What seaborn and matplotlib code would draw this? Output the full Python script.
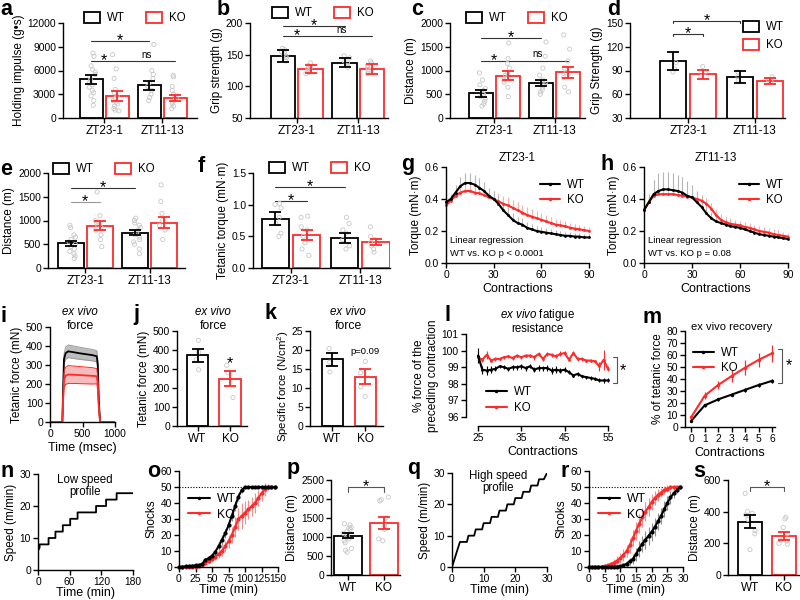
import numpy as np
import pandas as pd
import seaborn as sns
import matplotlib.pyplot as plt
from matplotlib.patches import Patch
from matplotlib.lines import Line2D
from matplotlib.ticker import FormatStrFormatter

# ---------------- data ----------------
groups = ['ZT23-1', 'ZT11-13']
genos = ['WT', 'KO']
# grouped bars: WT ZT23-1, KO ZT23-1, WT ZT11-13, KO ZT11-13
a_mean = [4900, 2800, 4150, 2500]
a_sem = [550, 600, 550, 400]
a_pts = [[8200, 7800, 6600, 6100, 5800, 5500, 5200, 4800, 4500, 4200, 3900, 3500, 3200, 2800, 2200, 1600],
         [8000, 6200, 5000, 3600, 3200, 2800, 2500, 2200, 2000, 1800, 1500, 1200, 1000, 900],
         [9300, 6000, 5500, 5000, 4500, 4000, 3500, 3000, 2600, 2200],
         [5400, 5200, 4000, 3500, 3000, 2500, 2200, 2000, 1800, 1500, 1200]]

b_mean = [148, 127, 137, 127]
b_sem = [9, 6, 7, 8]
b_pts = [[160, 158, 155, 153, 150, 148, 145, 140],
         [137, 133, 130, 128, 126, 124, 122, 120],
         [148, 145, 140, 137, 133, 130],
         [140, 137, 133, 130, 127, 124, 120]]

c_mean = [520, 890, 740, 960]
c_sem = [70, 100, 60, 110]
c_pts = [[950, 800, 700, 620, 580, 520, 500, 450, 400, 350, 300, 250],
         [1580, 1250, 1150, 1050, 950, 900, 850, 800, 750, 650, 450],
         [1600, 1300, 1050, 900, 800, 750, 700, 650, 600, 550, 500],
         [1750, 1450, 1200, 1050, 950, 850, 650, 550]]

d_mean = [102, 85, 82, 77]
d_sem = [11.5, 6, 7.5, 4]
d_pts = [[100, 92, 88], [95, 88, 82], [88, 82, 78], [82, 78, 76]]

e_mean = [520, 890, 740, 950]
e_sem = [50, 100, 55, 115]
e_pts = [[900, 850, 700, 650, 600, 550, 500, 450, 400, 350, 300, 250, 200],
         [1600, 1100, 1000, 950, 900, 850, 800, 700, 600, 450],
         [1050, 1000, 950, 900, 850, 800, 750, 700, 650, 600, 550, 500, 400, 300],
         [1750, 1400, 1150, 1000, 900, 800, 600]]

f_mean = [0.78, 0.52, 0.48, 0.41]
f_sem = [0.1, 0.08, 0.08, 0.05]
f_pts = [[1.02, 1.0, 0.95, 0.8, 0.7, 0.55, 0.5],
         [0.82, 0.8, 0.65, 0.6, 0.5, 0.4, 0.3, 0.2],
         [0.8, 0.7, 0.6, 0.55, 0.45, 0.35, 0.3],
         [0.65, 0.5, 0.45, 0.4, 0.35, 0.3, 0.25]]

# torque fatigue curves (every 3rd contraction)
contr = [0, 3, 6, 9, 12, 15, 18, 21, 24, 27, 30, 33, 36, 39, 42, 45, 48, 51, 54, 57, 60,
         63, 66, 69, 72, 75, 78, 81, 84, 87, 90]
g_wt = [0.38, 0.40, 0.44, 0.48, 0.50, 0.50, 0.49, 0.47, 0.45, 0.42, 0.40, 0.37, 0.33, 0.30, 0.27, 0.25,
        0.24, 0.22, 0.21, 0.20, 0.195, 0.19, 0.185, 0.18, 0.175, 0.17, 0.17, 0.165, 0.165, 0.16, 0.16]
g_wt_err = [0.02, 0.03, 0.05, 0.06, 0.065, 0.065, 0.06, 0.06, 0.055, 0.05, 0.05, 0.05, 0.05, 0.05, 0.045, 0.04,
            0.04, 0.035, 0.035, 0.03, 0.03, 0.03, 0.03, 0.025, 0.025, 0.025, 0.025, 0.02, 0.02, 0.02, 0.02]
g_ko = [0.36, 0.39, 0.42, 0.44, 0.45, 0.45, 0.44, 0.435, 0.425, 0.41, 0.40, 0.385, 0.37, 0.36, 0.345, 0.33,
        0.315, 0.30, 0.29, 0.28, 0.27, 0.26, 0.25, 0.24, 0.235, 0.23, 0.22, 0.215, 0.21, 0.205, 0.20]
g_ko_err = [0.02, 0.03, 0.04, 0.05, 0.05, 0.05, 0.05, 0.05, 0.05, 0.05, 0.05, 0.05, 0.05, 0.05, 0.05, 0.05,
            0.05, 0.05, 0.045, 0.045, 0.04, 0.04, 0.04, 0.035, 0.035, 0.03, 0.03, 0.03, 0.03, 0.025, 0.025]
h_wt = [0.33, 0.38, 0.43, 0.45, 0.46, 0.46, 0.455, 0.45, 0.44, 0.42, 0.41, 0.38, 0.35, 0.31, 0.28, 0.26,
        0.25, 0.24, 0.23, 0.225, 0.22, 0.21, 0.20, 0.19, 0.18, 0.175, 0.17, 0.165, 0.16, 0.155, 0.15]
h_wt_err = [0.02, 0.05, 0.09, 0.11, 0.11, 0.11, 0.11, 0.1, 0.1, 0.09, 0.08, 0.07, 0.06, 0.05, 0.04, 0.035,
            0.03, 0.03, 0.03, 0.03, 0.025, 0.025, 0.025, 0.02, 0.02, 0.02, 0.02, 0.02, 0.02, 0.02, 0.02]
h_ko = [0.33, 0.38, 0.42, 0.43, 0.43, 0.43, 0.43, 0.425, 0.42, 0.415, 0.41, 0.40, 0.39, 0.37, 0.34, 0.30,
        0.27, 0.255, 0.245, 0.24, 0.235, 0.225, 0.22, 0.21, 0.20, 0.195, 0.19, 0.18, 0.175, 0.17, 0.165]
h_ko_err = [0.02, 0.03, 0.03, 0.03, 0.03, 0.03, 0.03, 0.03, 0.03, 0.03, 0.03, 0.035, 0.035, 0.035, 0.035, 0.035,
            0.035, 0.035, 0.035, 0.03, 0.03, 0.03, 0.03, 0.03, 0.03, 0.03, 0.03, 0.03, 0.03, 0.025, 0.025]

# ex vivo force traces
i_time = [0, 190, 200, 215, 240, 280, 350, 450, 550, 650, 720, 735, 750, 770, 1000]
i_wt = [0, 0, 150, 330, 362, 372, 368, 362, 357, 352, 346, 300, 120, 0, 0]
i_wt_sem = [0, 0, 10, 25, 32, 33, 33, 32, 31, 30, 29, 25, 10, 0, 0]
i_ko = [0, 0, 100, 220, 243, 250, 249, 247, 245, 243, 241, 200, 80, 0, 0]
i_ko_sem = [0, 0, 15, 40, 45, 47, 46, 45, 44, 43, 40, 35, 15, 0, 0]

j_mean, j_sem = [372, 250], [35, 38]
j_pts = [[451, 389, 349, 296], [320, 280, 150]]
k_mean, k_sem = [17.6, 13.0], [1.7, 2.0]
k_pts = [[20.4, 16.8, 14.2], [17.0, 14.0, 10.3, 7.8]]

# fatigue resistance
l_x = [25, 26, 27, 28, 29, 30, 31, 32, 33, 34, 35, 36, 37, 38, 39, 40, 41, 42, 43, 44, 45, 46, 47, 48,
       49, 50, 51, 52, 53, 54, 55]
l_wt = [99.7, 98.85, 98.8, 98.85, 98.9, 99.05, 99.0, 98.9, 99.0, 99.0, 99.05, 98.95, 99.05, 98.85, 98.95, 98.95,
        98.95, 98.8, 98.85, 98.8, 98.85, 98.7, 98.5, 98.6, 98.45, 98.4, 98.35, 98.3, 98.2, 98.2, 98.2]
l_wt_err = [0.45, 0.25, 0.25, 0.2, 0.15, 0.1, 0.12, 0.12, 0.15, 0.15, 0.15, 0.15, 0.12, 0.15, 0.2, 0.15,
            0.2, 0.2, 0.2, 0.15, 0.15, 0.12, 0.12, 0.12, 0.1, 0.1, 0.1, 0.1, 0.12, 0.15, 0.12]
l_ko = [99.6, 99.45, 99.75, 99.4, 99.5, 99.5, 99.6, 99.65, 99.55, 99.7, 99.6, 99.7, 99.7, 99.6, 99.8, 99.5,
        99.8, 99.75, 99.65, 99.8, 99.85, 99.45, 99.85, 99.5, 99.5, 99.4, 99.4, 99.35, 99.05, 99.45, 98.9]
l_ko_err = [0.3, 0.12, 0.25, 0.1, 0.1, 0.08, 0.1, 0.1, 0.1, 0.1, 0.1, 0.1, 0.1, 0.15, 0.12, 0.1,
            0.12, 0.12, 0.12, 0.15, 0.12, 0.1, 0.12, 0.1, 0.1, 0.1, 0.1, 0.1, 0.25, 0.6, 0.15]

# recovery
m_x = [0, 1, 2, 3, 4, 5, 6]
m_wt = [5, 18, 23, 27, 31, 35, 38.5]
m_wt_err = [1, 1, 1.2, 1.5, 1.5, 1.5, 1.5]
m_ko = [8, 26, 35, 42.5, 49.5, 56, 61.5]
m_ko_err = [1.5, 3, 3.5, 5, 6, 6, 7]

# treadmill speed profiles (vertices)
n_time = [0, 0, 3, 3, 20, 20, 33, 33, 47, 47, 61, 61, 75, 75, 110, 110, 129, 129, 149, 149, 180]
n_speed = [0, 6, 7, 8, 8, 10, 10, 12, 12, 14, 14, 16, 16, 18, 18, 20, 20, 22, 22, 24, 24]
q_time = [0, 2.5, 4.7, 5.2, 7.0, 7.5, 9.5, 10, 12, 12.5, 14.5, 15, 17, 17.5, 19.5, 20, 22, 22.5,
          24.5, 25, 27, 27.5, 29, 30]
q_speed = [0, 8, 8, 10, 10, 12, 12, 14, 14, 16, 16, 18, 18, 20, 20, 22, 22, 24, 24, 26, 26, 28, 28, 30]

# shocks vs time, low speed
o_t = [0, 5, 10, 15, 20, 25, 30, 35, 40, 45, 50, 55, 60, 65, 70, 75, 80, 85, 90, 95, 100,
       105, 110, 115, 120, 125, 130, 135, 140, 145]
o_wt = [0, 0.2, 0.4, 0.6, 0.8, 1, 1.3, 1.8, 4.5, 5.5, 7, 9.5, 13, 17, 21, 26, 32, 38, 44, 48, 50,
        50, 50, 50, 50, 50, 50, 50, 50, 50]
o_wt_err = [0, 0, 0, 0, 0, 0.2, 0.3, 0.5, 1, 1.5, 1.5, 2, 2.5, 3, 3, 3, 3, 3, 2.5, 1.5, 0.5,
            0, 0, 0, 0, 0, 0, 0, 0, 0]
o_ko = [0, 0, 0, 0, 0.2, 0.3, 0.5, 1, 2.5, 4, 5, 6.5, 8, 10, 13, 16, 20, 25, 30, 32, 34,
        36, 38, 40, 43, 46, 48.5, 50, 50, 50]
o_ko_err = [0, 0, 0, 0, 0, 0.2, 0.3, 0.5, 1, 1.5, 2, 2, 2.5, 3, 3.5, 4, 5, 6, 7, 8, 7,
            6, 6, 6, 5, 5, 4, 2, 0.5, 0]

# shocks vs time, high speed
r_t = [0, 1, 2, 3, 4, 5, 6, 7, 8, 9, 10, 11, 12, 13, 14, 15, 16, 17, 18, 19, 20, 21, 22, 23, 24,
       25, 26, 27, 28, 29]
r_wt = [0, 0, 0, 0, 0, 0, 0, 0, 0.2, 0.3, 0.5, 1, 2, 3.5, 5, 8, 11.5, 14.5, 17, 19.5, 22, 25, 28.5,
        32, 36, 40, 43.5, 46, 48, 50]
r_wt_err = [0, 0, 0, 0, 0, 0, 0, 0, 0.2, 0.3, 0.5, 1, 1.5, 2, 3, 4, 5, 5, 5.5, 5.5, 5.5, 5.5, 5.5,
            5, 5, 4.5, 4, 3, 2, 1]
r_ko = [0, 0, 0, 0, 0.3, 0.6, 1, 1.8, 2.8, 4, 5.5, 7.5, 10, 13.5, 18, 22.5, 27, 31, 34.5, 37.5, 40.5,
        43, 45, 46.5, 48, 49, 49.8, 50, 50, 50]
r_ko_err = [0, 0, 0, 0, 0.3, 0.5, 1, 1.5, 2, 3, 3, 3.5, 4, 4.5, 5, 5.5, 6, 6, 6, 5.5, 5, 4.5, 4,
            3, 2.5, 2, 1.5, 1, 0.5, 0.5]

p_mean, p_sem = [1035, 1370], [65, 165]
p_pts = [[1350, 1320, 1250, 1230, 1200, 1150, 1100, 1050, 1000, 950, 900, 850, 700, 650, 600],
         [2050, 1980, 1950, 1500, 1300, 1200, 950, 900]]
s_mean, s_sem = [337, 245], [40, 24]
s_pts = [[515, 400, 390, 380, 350, 280, 260, 160],
         [365, 355, 300, 260, 220, 215, 200, 195]]

# ---------------- style ----------------
RED = '#ff2b2b'
DOT = '#c8c8c8'
pal = {'WT': 'black', 'KO': RED}

sns.set_theme(style='ticks')
plt.rcParams['font.family'] = ['Liberation Sans', 'DejaVu Sans']
plt.rcParams.update({
    'font.size': 7.5, 'axes.linewidth': 1.0, 'axes.labelsize': 8.5, 'axes.labelpad': 2,
    'xtick.labelsize': 7.4, 'ytick.labelsize': 7.4,
    'xtick.major.size': 3.5, 'ytick.major.size': 3.5, 'xtick.major.width': 1.0, 'ytick.major.width': 1.0,
    'xtick.major.pad': 1.5, 'ytick.major.pad': 1.5,
    'axes.edgecolor': 'black', 'xtick.color': 'black', 'ytick.color': 'black',
    'axes.labelcolor': 'black', 'text.color': 'black',
    'mathtext.fontset': 'custom', 'mathtext.rm': 'Liberation Sans',
    'mathtext.it': 'Liberation Sans:italic', 'mathtext.bf': 'Liberation Sans:bold',
})
np.random.seed(3)

W, H = 800, 600
fig = plt.figure(figsize=(8, 6), dpi=100)


def box(l, t, r, b):
    ax = fig.add_axes([l / W, 1 - b / H, (r - l) / W, (b - t) / H])
    sns.despine(ax=ax)
    return ax


def ftext(x, y, s, **kw):
    fig.text(x / W, 1 - y / H, s, **kw)


def hollow(ax):
    for c in ax.collections:
        c.set_facecolor('none')
        c.set_edgecolor(DOT)
        c.set_linewidth(0.6)


def grouped_bars(ax, mean, sem, pts, xlim, ylim, yticks, ylabel):
    keys = [(g, k) for g in groups for k in genos]
    bars = pd.DataFrame({'group': [g for g, k in keys], 'geno': [k for g, k in keys], 'val': mean})
    dots = pd.DataFrame([(g, k, v) for (g, k), vals in zip(keys, pts) for v in vals],
                        columns=['group', 'geno', 'val'])
    sns.stripplot(data=dots, x='group', y='val', hue='geno', order=groups, hue_order=genos,
                  dodge=True, jitter=0.12, size=3, palette={'WT': DOT, 'KO': DOT}, legend=False, ax=ax)
    hollow(ax)
    sns.barplot(data=bars, x='group', y='val', hue='geno', order=groups, hue_order=genos,
                palette=pal, fill=False, width=0.9, gap=0.12, linewidth=1.3, errorbar=None,
                legend=False, ax=ax)
    patches = sorted(ax.patches, key=lambda p: p.get_x())
    for p, m, s, (g, k) in zip(patches, mean, sem, keys):
        ax.errorbar(p.get_x() + p.get_width() / 2, m, yerr=s, fmt='none', ecolor=pal[k],
                    elinewidth=1.3, capsize=4, capthick=1.3, zorder=4)
    ax.set(xlim=xlim, ylim=ylim, xlabel='', ylabel=ylabel)
    ax.set_yticks(yticks)
    ax.tick_params(axis='x', labelsize=8.5)


def simple_bars(ax, mean, sem, pts, xlim, ylim, yticks, ylabel, width):
    bars = pd.DataFrame({'geno': genos, 'val': mean})
    dots = pd.DataFrame([(k, v) for k, vals in zip(genos, pts) for v in vals], columns=['geno', 'val'])
    sns.stripplot(data=dots, x='geno', y='val', order=genos, color=DOT, jitter=0.15, size=3, ax=ax)
    hollow(ax)
    sns.barplot(data=bars, x='geno', y='val', hue='geno', order=genos, hue_order=genos, palette=pal,
                fill=False, width=width, linewidth=1.3, errorbar=None, legend=False, ax=ax)
    patches = sorted(ax.patches, key=lambda p: p.get_x())
    for p, m, s, k in zip(patches, mean, sem, genos):
        ax.errorbar(p.get_x() + p.get_width() / 2, m, yerr=s, fmt='none', ecolor=pal[k],
                    elinewidth=1.3, capsize=4, capthick=1.3, zorder=4)
    ax.set(xlim=xlim, ylim=ylim, xlabel='', ylabel=ylabel)
    ax.set_yticks(yticks)
    ax.tick_params(axis='x', labelsize=8.5)


def sig(ax, x1, x2, y, txt, drop=0.0, color='#333333'):
    if drop:
        ax.plot([x1, x1, x2, x2], [y - drop, y, y, y - drop], color=color, lw=0.8, clip_on=False)
    else:
        ax.plot([x1, x2], [y, y], color=color, lw=0.8, clip_on=False)
    if txt == '*':
        ax.annotate('*', xy=((x1 + x2) / 2, y), xytext=(0, -3), textcoords='offset points',
                    ha='center', va='baseline', fontsize=11.5, annotation_clip=False)
    else:
        ax.annotate(txt, xy=((x1 + x2) / 2, y), xytext=(0, 1), textcoords='offset points',
                    ha='center', va='bottom', fontsize=7, annotation_clip=False)


def bar_legend(ax, cx, cy, ncol=2):
    h = [Patch(facecolor='white', edgecolor='black', lw=1.3, label='WT'),
         Patch(facecolor='white', edgecolor=RED, lw=1.3, label='KO')]
    ax.legend(handles=h, ncol=ncol, loc='center', bbox_to_anchor=(cx / W, 1 - cy / H),
              bbox_transform=fig.transFigure, frameon=False, fontsize=8.3, handlelength=1.4,
              handleheight=1.1, handletextpad=0.6, columnspacing=1.8, labelspacing=0.5, borderpad=0)


def line_legend(ax, loc, anchor, fs=8.3):
    h = [Line2D([0], [0], color='black', marker='o', ms=2.5, mew=0, lw=1.5, label='WT'),
         Line2D([0], [0], color=RED, marker='o', ms=2.5, mew=0, lw=1.5, label='KO')]
    ax.legend(handles=h, loc=loc, bbox_to_anchor=anchor, frameon=False, fontsize=fs,
              handlelength=1.8, handletextpad=0.6, labelspacing=0.3, borderpad=0.2)


def series(ax, x, y, err, color, ecolor, up_only=False, ms=2.5, elw=0.8):
    lower = [0] * len(err) if up_only else err
    ax.errorbar(x, y, yerr=[lower, err], fmt='none', ecolor=ecolor, elinewidth=elw, zorder=1, clip_on=False)
    sns.lineplot(x=x, y=y, color=color, marker='o', markersize=ms, markeredgewidth=0, linewidth=1.5,
                 estimator=None, sort=False, ax=ax, zorder=2, clip_on=False)


WT1, KO1, WT2, KO2 = -0.225, 0.225, 0.775, 1.225

# ---------------- row 1 ----------------
ax = box(63, 23, 197, 118)
grouped_bars(ax, a_mean, a_sem, a_pts, (-0.71, 1.6), (0, 12000), [0, 3000, 6000, 9000, 12000],
             'Holding impulse (g•s)')
sig(ax, WT1, WT2, 9700, '*'); sig(ax, WT1, KO1, 7200, '*'); sig(ax, KO1, KO2, 7200, 'ns')
bar_legend(ax, 135, 18)

ax = box(250, 23, 388, 118)
grouped_bars(ax, b_mean, b_sem, b_pts, (-0.76, 1.48), (50, 200), [50, 100, 150, 200], 'Grip strength (g)')
sig(ax, WT1, WT2, 195, '*'); sig(ax, WT1, KO1, 179.5, '*'); sig(ax, KO1, KO2, 179.5, 'ns')
bar_legend(ax, 323, 13)

ax = box(450, 23, 585, 118)
grouped_bars(ax, c_mean, c_sem, c_pts, (-0.73, 1.5), (0, 2000), [0, 500, 1000, 1500, 2000], 'Distance (m)')
sig(ax, WT1, WT2, 1680, '*'); sig(ax, WT1, KO1, 1205, '*'); sig(ax, KO1, KO2, 1205, 'ns')
bar_legend(ax, 517, 18)

ax = box(630, 23, 785, 118)
grouped_bars(ax, d_mean, d_sem, d_pts, (-0.87, 1.45), (30, 150), [30, 60, 90, 120, 150], 'Grip Strength (g)')
sig(ax, WT1, WT2, 153, '*', drop=3); sig(ax, WT1, KO1, 136, '*', drop=3)
bar_legend(ax, 763, 36, ncol=1)

# ---------------- row 2 ----------------
ax = box(48, 173, 185, 268)
grouped_bars(ax, e_mean, e_sem, e_pts, (-0.58, 1.55), (0, 2000), [0, 500, 1000, 1500, 2000], 'Distance (m)')
sig(ax, WT1, WT2, 1690, '*'); sig(ax, WT1, KO1, 1395, '*', color='#999999')
bar_legend(ax, 104, 169)

ax = box(253, 173, 390, 268)
grouped_bars(ax, f_mean, f_sem, f_pts, (-0.55, 1.43), (0, 1.5), [0, 0.5, 1.0, 1.5], 'Tetanic torque (mN·m)')
ax.yaxis.set_major_formatter(FormatStrFormatter('%.1f'))
sig(ax, WT1, WT2, 1.28, '*'); sig(ax, WT1, KO1, 1.06, '*')
bar_legend(ax, 320, 168)

for (l, r), wt, wte, ko, koe, title, ptxt, lx in [
        ((446, 589), g_wt, g_wt_err, g_ko, g_ko_err, 'ZT23-1', 'WT vs. KO p < 0.0001', 450),
        ((644, 788), h_wt, h_wt_err, h_ko, h_ko_err, 'ZT11-13', 'WT vs. KO p = 0.08', 648)]:
    ax = box(l, 167, r, 263)
    series(ax, contr, ko, koe, RED, '#f7b0b0', up_only=True, ms=2)
    series(ax, contr, wt, wte, 'black', '#b5b5b5', up_only=True, ms=2)
    ax.set(xlim=(0, 90), ylim=(0, 0.6), xticks=[0, 30, 60, 90], yticks=[0, 0.2, 0.4, 0.6],
           xlabel='Contractions', ylabel='Torque (mN·m)')
    ax.xaxis.label.set_size(9)
    ax.yaxis.set_major_formatter(FormatStrFormatter('%.1f'))
    ax.set_title(title, fontsize=8.3, pad=4)
    ftext(lx, 241, 'Linear regression', fontsize=6.8, va='center')
    ftext(lx, 253, ptxt, fontsize=6.8, va='center')
    line_legend(ax, 'upper right', (1.03, 0.96))

# ---------------- row 3 ----------------
ax = box(50, 327, 115, 422)
for y, e, col, fillc, edge in [(i_wt, i_wt_sem, 'black', '#bdbdbd', '#9a9a9a'),
                               (i_ko, i_ko_sem, RED, '#f6bcbc', RED)]:
    lo = [v - s for v, s in zip(y, e)]
    hi = [v + s for v, s in zip(y, e)]
    ax.fill_between(i_time, lo, hi, color=fillc, lw=0)
    ax.plot(i_time, lo, color=edge, lw=0.7)
    ax.plot(i_time, hi, color=edge, lw=0.7)
    sns.lineplot(x=i_time, y=y, color=col, lw=1.3, estimator=None, sort=False, ax=ax)
ax.set(xlim=(0, 1000), ylim=(0, 500), xticks=[0, 500, 1000], yticks=[0, 100, 200, 300, 400, 500],
       xlabel='Time (msec)', ylabel='Tetanic force (mN)')
ax.xaxis.label.set_size(9)
ftext(80, 312, 'ex vivo', fontsize=8.3, style='italic', ha='center', va='center')
ftext(80, 326, 'force', fontsize=8.8, ha='center', va='center')

ax = box(177, 331, 247, 426)
simple_bars(ax, j_mean, j_sem, j_pts, (-0.63, 1.52), (0, 500), [0, 100, 200, 300, 400, 500],
            'Tetanic force (mN)', 0.65)
ax.annotate('*', xy=(1, 330), ha='center', va='center', fontsize=11.5)
ftext(213, 312, 'ex vivo', fontsize=8.3, style='italic', ha='center', va='center')
ftext(213, 326, 'force', fontsize=8.8, ha='center', va='center')

ax = box(310, 331, 383, 426)
simple_bars(ax, k_mean, k_sem, k_pts, (-0.68, 1.53), (0, 25), [0, 5, 10, 15, 20, 25],
            'Specific force (N/cm$^2$)', 0.64)
ax.yaxis.label.set_size(8.2)
ax.yaxis.set_label_coords(-0.26, 0.42)
ax.text(1, 19.6, 'p=0.09', ha='center', va='center', fontsize=6.8)
ftext(348, 312, 'ex vivo', fontsize=8.3, style='italic', ha='center', va='center')
ftext(348, 326, 'force', fontsize=8.8, ha='center', va='center')

ax = box(478, 334, 608, 417)
series(ax, l_x, l_ko, l_ko_err, RED, RED, ms=2, elw=0.8)
series(ax, l_x, l_wt, l_wt_err, 'black', 'black', ms=2, elw=0.8)
ax.set(xlim=(25, 55), ylim=(96, 101), xticks=[25, 35, 45, 55], yticks=[96, 97, 98, 99, 100, 101],
       xlabel='Contractions', ylabel='% force of the\npreceding contraction')
ax.xaxis.label.set_size(9)
ax.spines['left'].set_position(('outward', 9))
ax.spines['bottom'].set_position(('outward', 6.5))
ax.plot([56.2, 57.1, 57.1, 56.2], [99.6, 99.6, 98.05, 98.05], color='#555555', lw=0.8, clip_on=False)
ax.annotate('*', xy=(58.4, 98.82), ha='center', va='center', fontsize=11.5, annotation_clip=False)
ftext(537, 315, r'$\it{ex\ vivo}$ fatigue', fontsize=8.3, ha='center', va='center')
ftext(537, 329, 'resistance', fontsize=8.3, ha='center', va='center')
line_legend(ax, 'lower left', (0.0, -0.06))

ax = box(685, 331, 775, 427)
series(ax, m_x, m_wt, m_wt_err, 'black', 'black', ms=2.5, elw=0.9)
series(ax, m_x, m_ko, m_ko_err, RED, RED, ms=2.5, elw=0.9)
ax.set(xlim=(-0.45, 6.2), ylim=(0, 80), xticks=[0, 1, 2, 3, 4, 5, 6], yticks=list(range(0, 81, 10)),
       xlabel='Contractions', ylabel='% of tetanic force')
ax.xaxis.label.set_size(9)
ax.plot([6.45, 6.74, 6.74, 6.45], [65, 65, 37, 37], color='#555555', lw=0.8, clip_on=False)
ax.annotate('*', xy=(7.25, 51), ha='center', va='center', fontsize=11.5, annotation_clip=False)
ftext(732, 327, 'ex vivo recovery', fontsize=8, ha='center', va='center')
line_legend(ax, 'upper left', (0.0, 0.92))

# ---------------- row 4 ----------------
for (l, r, t, b), tx, sp, xmax, xt, (cx, cy), txt in [
        ((38, 133, 474, 570), n_time, n_speed, 180, [0, 60, 120, 180], (85, 480), 'Low speed'),
        ((452, 547, 473, 567), q_time, q_speed, 30, [0, 10, 20, 30], (498, 476), 'High speed')]:
    ax = box(l, t, r, b)
    sns.lineplot(x=tx, y=sp, color='black', lw=1.3, estimator=None, sort=False, ax=ax)
    ax.set(xlim=(0, xmax), ylim=(0, 30), xticks=xt, yticks=[0, 10, 20, 30], ylabel='Speed (m/min)')
    ax.set_xlabel('Time (min)', fontsize=9, labelpad=0)
    ftext(cx, cy, txt, fontsize=8.3, ha='center', va='center')
    ftext(cx, cy + 12, 'profile', fontsize=8.3, ha='center', va='center')

for (l, r), tt, wt, wte, ko, koe, xmax, xt, ylab in [
        ((179, 278), o_t, o_wt, o_wt_err, o_ko, o_ko_err, 150, [0, 25, 50, 75, 100, 125, 150], 'Shocks'),
        ((589, 683), r_t, r_wt, r_wt_err, r_ko, r_ko_err, 30, [0, 5, 10, 15, 20, 25, 30], 'Shcoks')]:
    ax = box(l, 471, r, 567)
    ax.axhline(50, color='black', lw=0.8, ls=(0, (1, 1.5)), zorder=0)
    series(ax, tt, ko, koe, RED, '#f28c8c', ms=3)
    series(ax, tt, wt, wte, 'black', '#8c8c8c', ms=3)
    ax.set(xlim=(0, xmax), ylim=(0, 60), xticks=xt, yticks=[0, 10, 20, 30, 40, 50, 60], ylabel=ylab)
    ax.set_xlabel('Time (min)', fontsize=9, labelpad=0)
    line_legend(ax, 'upper left', (0.0, 0.86), fs=8.8)

ax = box(331, 480, 400, 575)
simple_bars(ax, p_mean, p_sem, p_pts, (-0.48, 1.46), (0, 2500), [0, 500, 1000, 1500, 2000, 2500],
            'Distance (m)', 0.79)
sig(ax, 0, 1, 2310, '*', drop=120, color='#555555')

ax = box(728, 480, 800, 575)
simple_bars(ax, s_mean, s_sem, s_pts, (-0.66, 1.49), (0, 600), [0, 200, 400, 600], 'Distance (m)', 0.72)
sig(ax, 0, 1, 556, '*', drop=28, color='#555555')

# ---------------- panel letters ----------------
for ch, x, y in [('a', 0, 15), ('b', 217, 15), ('c', 411, 15), ('d', 607, 15),
                 ('e', 0, 175), ('f', 198, 172), ('g', 401, 170), ('h', 600, 170),
                 ('i', 1, 322), ('j', 133, 320), ('k', 265, 319), ('l', 445, 321), ('m', 642, 323),
                 ('n', 1, 477), ('o', 147, 477), ('p', 287, 474), ('q', 407, 474), ('r', 560, 477),
                 ('s', 693, 477)]:
    ftext(x, y, ch, fontsize=15.5, fontweight='bold', ha='left', va='baseline')

fig.savefig('out.png', dpi=100)
